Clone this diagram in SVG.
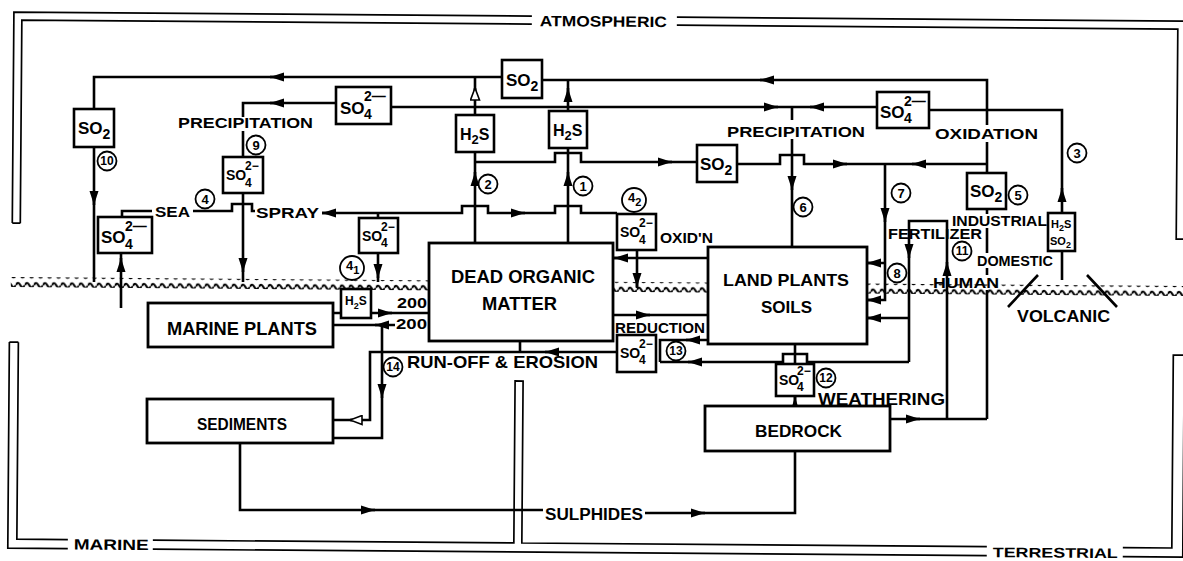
<svg xmlns="http://www.w3.org/2000/svg" width="1183" height="561" viewBox="0 0 1183 561">
<style>
.t{font-family:"Liberation Sans",Arial,Helvetica,sans-serif;font-weight:bold;fill:#000}
.ln{fill:none;stroke:#000;stroke-width:2.6;stroke-linejoin:miter}
.fr{fill:none;stroke:#000;stroke-width:1.7}
.bx{fill:#fff;stroke:#000;stroke-width:2.8}
.sb{fill:#fff;stroke:#000;stroke-width:2.6}
.cn{fill:#fff;stroke:#000;stroke-width:1.8}
.ar{fill:none;stroke:#000;stroke-width:2.6;marker-end:url(#ah)}
.ao{fill:none;stroke:#000;stroke-width:2.6;marker-end:url(#aho)}
.f18{font-size:18px}.f17{font-size:17px}.f16{font-size:16px}.f15{font-size:15px}.f14{font-size:14px}.f13{font-size:13px}.f12{font-size:12px}.f11{font-size:11px}.f9{font-size:9px}
</style>
<defs>
<marker id="ah" markerUnits="userSpaceOnUse" markerWidth="15" markerHeight="10" refX="14" refY="5" orient="auto"><path d="M0,0.5 L14,5 L0,9.5 z" fill="#000"/></marker>
<marker id="aho" markerUnits="userSpaceOnUse" markerWidth="15" markerHeight="11" refX="13" refY="5.5" orient="auto"><path d="M1,1 L13,5.5 L1,10 z" fill="#fff" stroke="#000" stroke-width="1.6"/></marker>
<pattern id="wave" patternUnits="userSpaceOnUse" width="9" height="10"><path d="M0,5 Q2.25,0.5 4.5,5 T9,5" fill="none" stroke="#000" stroke-width="2.1"/></pattern>
</defs>

<g id="frames" transform="rotate(0.44)">
<path class="fr" d="M14,223 V12 H532 M677,12 H1195 M22,223 V20 H532 M677,20 H1178 V230 H1195 M14,223 H22"/>
<path class="fr" d="M12,342 H21 M12,342 V548 H72 M157,548 H991 M1127,548 H1187 V330 M21,342 V539 H72 M157,539 H518 V377 H526 V539 H991 M1127,539 H1176 V346 H1195"/>
<rect x="13" y="277" width="1180" height="10" fill="url(#wave)"/>
<text class="t f15" x="540" y="22" textLength="127" lengthAdjust="spacingAndGlyphs">ATMOSPHERIC</text>
<text class="t f15" x="78" y="549" textLength="75" lengthAdjust="spacingAndGlyphs">MARINE</text>
<text class="t f14" x="997" y="549.5" textLength="125" lengthAdjust="spacingAndGlyphs">TERRESTRIAL</text>
</g>

<g id="connectors">
<path class="ln" d="M94,109 V77 H502"/><path class="ar" d="M276,77 H270"/>
<path class="ln" d="M542,80 H987 V125 M987,142 V173"/><path class="ar" d="M766,80 H760"/>
<path class="ln" d="M987,164 H885"/><path class="ar" d="M918,164 H912"/>
<path class="ln" d="M475,162 H555 V153 H581 V162 H697"/><path class="ar" d="M666,162 H672"/>
<path class="ln" d="M737,164 H780 V155 H804 V164 H885"/><path class="ar" d="M841,164 H847"/>
<path class="ln" d="M336,103 H243 V117 M243,131 V157"/><path class="ar" d="M276,103 H270"/>
<path class="ln" d="M391,107 H877 M792,107 V120 M792,139 V247"/><path class="ar" d="M772,107 H778"/><path class="ar" d="M816,107 H810"/><path class="ar" d="M792,184 V190"/>
<path class="ln" d="M929,110 H1062 V213"/><path class="ar" d="M1062,194 V188"/>
<path class="ln" d="M475,115 V77"/><path class="ao" d="M475,94 V88"/>
<path class="ln" d="M568,111 V80"/><path class="ar" d="M568,94 V88"/>
<path class="ln" d="M475,243 V152"/><path class="ar" d="M475,178 V172"/>
<path class="ln" d="M568,243 V148"/><path class="ar" d="M568,178 V172"/>
<path class="ln" d="M322,213 H462 V206 H488 V213 H555 V206 H581 V213 H617"/><path class="ar" d="M328,213 H322"/><path class="ar" d="M519,213 H525"/>
<path class="ln" d="M378,213 V218 M378,253 V282"/><path class="ar" d="M378,272 V278"/>
<path class="ln" d="M122,217 V211 H152 M193,211 H232 V204 H252 V211 H255"/>
<path class="ln" d="M94,147 V282"/><path class="ar" d="M94,199 V205"/>
<path class="ln" d="M243,193 V282"/><path class="ar" d="M243,266 V272"/>
<path class="ln" d="M121,308 V253"/><path class="ar" d="M121,264 V258"/>
<path class="ln" d="M333,313 H341 M371,313 H429"/><path class="ar" d="M386,313 H392"/>
<path class="ln" d="M395,325 H333"/><path class="ar" d="M381,325 H375"/>
<path class="ln" d="M382,325 V438 H333"/><path class="ar" d="M382,392 V398"/>
<path class="ln" d="M617,352 H370 V420 H333"/><path class="ar" d="M551,352 H545"/><path class="ao" d="M356,420 H350"/>
<path class="ln" d="M520,341 V352"/>
<path class="ln" d="M708,258 H613"/><path class="ar" d="M620,258 H614"/>
<path class="ln" d="M637,250 V288"/><path class="ar" d="M637,281 V287"/>
<path class="ln" d="M613,315 H708"/><path class="ar" d="M644,315 H650"/>
<path class="ln" d="M708,340 H660 V362"/><path class="ar" d="M692,340 H686"/>
<path class="ln" d="M909,362 H807 V354 H783 V362 H660"/><path class="ar" d="M694,362 H688"/>
<path class="ln" d="M795,344 V364"/>
<path class="ln" d="M795,406 V396"/><path class="ar" d="M795,403 V397"/>
<path class="ln" d="M240,443 V510 H543 M645,513 H795 V451"/><path class="ar" d="M369,510 H375"/><path class="ar" d="M699,513 H705"/>
<path class="ln" d="M890,419 H987"/><path class="ar" d="M914,419 H920"/>
<path class="ln" d="M947,419 V221 H909 V362"/><path class="ar" d="M947,268 V262"/><path class="ar" d="M909,252 V258"/>
<path class="ln" d="M909,318 H867"/><path class="ar" d="M873,318 H867"/>
<path class="ln" d="M987,209 V214 M987,228 V253 M987,268 V275 M987,290 V419"/>
<path class="ln" d="M1062,251 V280"/>
<path class="ln" d="M885,164 V300 H867 M885,263 H867"/><path class="ar" d="M885,216 V222"/><path class="ar" d="M873,263 H867"/><path class="ar" d="M873,300 H867"/>
</g>

<g id="dead"><rect class="bx" x="429" y="243" width="184" height="98"/><text class="t f18" x="451" y="283" textLength="144" lengthAdjust="spacingAndGlyphs">DEAD ORGANIC</text><text class="t f18" x="482" y="310" textLength="75" lengthAdjust="spacingAndGlyphs">MATTER</text></g>
<g id="land"><rect class="bx" x="708" y="247" width="159" height="97"/><text class="t f17" x="723" y="286" textLength="126" lengthAdjust="spacingAndGlyphs">LAND PLANTS</text><text class="t f17" x="761" y="313" textLength="51" lengthAdjust="spacingAndGlyphs">SOILS</text></g>
<g id="marine-plants"><rect class="bx" x="148" y="303" width="185" height="44"/><text class="t f18" x="167" y="335" textLength="150" lengthAdjust="spacingAndGlyphs">MARINE PLANTS</text></g>
<g id="sediments"><rect class="bx" x="147" y="399" width="186" height="44"/><text class="t f17" x="197" y="430" textLength="90" lengthAdjust="spacingAndGlyphs">SEDIMENTS</text></g>
<g id="bedrock"><rect class="bx" x="705" y="406" width="185" height="45"/><text class="t f17" x="755" y="437" textLength="87" lengthAdjust="spacingAndGlyphs">BEDROCK</text></g>

<g id="so2-top"><rect class="sb" x="502" y="60" width="40" height="38"/><text class="t f17" x="506" y="86">SO<tspan class="f14" dy="5">2</tspan></text></g>
<g id="so4-left"><rect class="sb" x="336" y="87" width="55" height="37"/><text class="t f17" x="340" y="114">SO<tspan class="f14" x="364" y="101">2—</tspan><tspan class="f14" x="364" y="119">4</tspan></text></g>
<g id="h2s-2"><rect class="sb" x="456" y="115" width="38" height="37"/><text class="t f16" x="460" y="140">H<tspan class="f13" dy="4">2</tspan><tspan dy="-4">S</tspan></text></g>
<g id="h2s-1"><rect class="sb" x="549" y="111" width="38" height="37"/><text class="t f16" x="553" y="136">H<tspan class="f13" dy="4">2</tspan><tspan dy="-4">S</tspan></text></g>
<g id="so4-right"><rect class="sb" x="877" y="92" width="52" height="36"/><text class="t f17" x="880" y="118">SO<tspan class="f14" x="904" y="106">2—</tspan><tspan class="f14" x="904" y="123">4</tspan></text></g>
<g id="so2-mid"><rect class="sb" x="697" y="145" width="40" height="37"/><text class="t f17" x="700" y="170">SO<tspan class="f14" dy="5">2</tspan></text></g>
<g id="so2-10"><rect class="sb" x="74" y="109" width="40" height="38"/><text class="t f17" x="78" y="134">SO<tspan class="f14" dy="5">2</tspan></text></g>
<g id="so4-9"><rect class="sb" x="223" y="157" width="40" height="36"/><text class="t f14" x="226" y="180">SO<tspan class="f12" x="245" y="170">2−</tspan><tspan class="f12" x="245" y="187">4</tspan></text></g>
<g id="so4-sea"><rect class="sb" x="98" y="217" width="54" height="36"/><text class="t f17" x="101" y="243">SO<tspan class="f14" x="125" y="231">2—</tspan><tspan class="f14" x="125" y="249">4</tspan></text></g>
<g id="so4-41"><rect class="sb" x="359" y="218" width="39" height="35"/><text class="t f14" x="362" y="241">SO<tspan class="f12" x="381" y="231">2−</tspan><tspan class="f12" x="381" y="247">4</tspan></text></g>
<g id="h2s-small"><rect class="sb" x="341" y="289" width="30" height="29"/><text class="t f12" x="345" y="305">H<tspan class="f9" dy="4">2</tspan><tspan dy="-4">S</tspan></text></g>
<g id="so4-42"><rect class="sb" x="617" y="214" width="39" height="36"/><text class="t f14" x="620" y="237">SO<tspan class="f12" x="639" y="227">2−</tspan><tspan class="f12" x="639" y="244">4</tspan></text></g>
<g id="so2-5"><rect class="sb" x="967" y="173" width="39" height="36"/><text class="t f17" x="970" y="197">SO<tspan class="f14" dy="5">2</tspan></text></g>
<g id="volcanic-gas"><rect class="sb" x="1048" y="213" width="27" height="38"/><text class="t f11" x="1051" y="228">H<tspan class="f9" dy="3">2</tspan><tspan dy="-3">S</tspan></text><text class="t f11" x="1050" y="245">SO<tspan class="f9" dy="3">2</tspan></text></g>
<g id="so4-13"><rect class="sb" x="617" y="335" width="39" height="37"/><text class="t f14" x="620" y="358">SO<tspan class="f12" x="639" y="348">2−</tspan><tspan class="f12" x="639" y="364">4</tspan></text></g>
<g id="so4-12"><rect class="sb" x="776" y="364" width="38" height="32"/><text class="t f14" x="779" y="385">SO<tspan class="f12" x="797" y="375">2−</tspan><tspan class="f12" x="797" y="391">4</tspan></text></g>

<g id="volcanic-vent"><path class="ln" d="M1008,307 L1038,275 M1087,275 L1117,307"/></g>

<g id="labels">
<text class="t f15" x="178" y="128" textLength="135" lengthAdjust="spacingAndGlyphs">PRECIPITATION</text>
<text class="t f15" x="727" y="137" textLength="138" lengthAdjust="spacingAndGlyphs">PRECIPITATION</text>
<text class="t f15" x="935" y="139" textLength="103" lengthAdjust="spacingAndGlyphs">OXIDATION</text>
<text class="t f15" x="155" y="217" textLength="35" lengthAdjust="spacingAndGlyphs">SEA</text>
<text class="t f15" x="256" y="218" textLength="63" lengthAdjust="spacingAndGlyphs">SPRAY</text>
<text class="t f15" x="660" y="243" textLength="53" lengthAdjust="spacingAndGlyphs">OXID'N</text>
<text class="t f15" x="615" y="333" textLength="90" lengthAdjust="spacingAndGlyphs">REDUCTION</text>
<text class="t f17" x="407" y="368" textLength="191" lengthAdjust="spacingAndGlyphs">RUN-OFF &amp; EROSION</text>
<text class="t f16" x="818" y="405" textLength="127" lengthAdjust="spacingAndGlyphs">WEATHERING</text>
<text class="t f16" x="545" y="520" textLength="98" lengthAdjust="spacingAndGlyphs">SULPHIDES</text>
<text class="t f15" x="952" y="226" textLength="95" lengthAdjust="spacingAndGlyphs">INDUSTRIAL</text>
<text class="t f15" x="888" y="239" textLength="94" lengthAdjust="spacingAndGlyphs">FERTILIZER</text>
<text class="t f15" x="977" y="266" textLength="76" lengthAdjust="spacingAndGlyphs">DOMESTIC</text>
<text class="t f15" x="933" y="288" textLength="66" lengthAdjust="spacingAndGlyphs">HUMAN</text>
<text class="t f16" x="1017" y="322" textLength="93" lengthAdjust="spacingAndGlyphs">VOLCANIC</text>
<text class="t f14" x="397" y="308" textLength="30" lengthAdjust="spacingAndGlyphs">200</text>
<text class="t f14" x="396" y="329" textLength="31" lengthAdjust="spacingAndGlyphs">200</text>
</g>

<g id="numbers">
<g id="n1"><circle class="cn" cx="583" cy="186" r="9.5"/><text class="t f13" x="583" y="190.5" text-anchor="middle">1</text></g>
<g id="n2"><circle class="cn" cx="488" cy="184" r="9.5"/><text class="t f13" x="488" y="188.5" text-anchor="middle">2</text></g>
<g id="n3"><circle class="cn" cx="1077" cy="153" r="9.5"/><text class="t f13" x="1077" y="157.5" text-anchor="middle">3</text></g>
<g id="n4"><circle class="cn" cx="205" cy="199" r="9.5"/><text class="t f13" x="205" y="203.5" text-anchor="middle">4</text></g>
<g id="n41"><circle class="cn" cx="352" cy="268" r="12"/><text class="t f13" x="346" y="270">4<tspan class="f11" dy="4">1</tspan></text></g>
<g id="n42"><circle class="cn" cx="634" cy="200" r="12"/><text class="t f13" x="628" y="202">4<tspan class="f11" dy="4">2</tspan></text></g>
<g id="n5"><circle class="cn" cx="1018" cy="195" r="9.5"/><text class="t f13" x="1018" y="199.5" text-anchor="middle">5</text></g>
<g id="n6"><circle class="cn" cx="803" cy="207" r="9.5"/><text class="t f13" x="803" y="211.5" text-anchor="middle">6</text></g>
<g id="n7"><circle class="cn" cx="901" cy="193" r="9.5"/><text class="t f13" x="901" y="197.5" text-anchor="middle">7</text></g>
<g id="n8"><circle class="cn" cx="897" cy="273" r="9.5"/><text class="t f13" x="897" y="277.5" text-anchor="middle">8</text></g>
<g id="n9"><circle class="cn" cx="256" cy="145" r="9.5"/><text class="t f13" x="256" y="149.5" text-anchor="middle">9</text></g>
<g id="n10"><circle class="cn" cx="107" cy="161" r="9.5"/><text class="t f12" x="107" y="165" text-anchor="middle">10</text></g>
<g id="n11"><circle class="cn" cx="962" cy="251" r="9.5"/><text class="t f12" x="962" y="255" text-anchor="middle">11</text></g>
<g id="n12"><circle class="cn" cx="826" cy="378" r="9.5"/><text class="t f12" x="826" y="382" text-anchor="middle">12</text></g>
<g id="n13"><circle class="cn" cx="676" cy="351" r="9.5"/><text class="t f12" x="676" y="355" text-anchor="middle">13</text></g>
<g id="n14"><circle class="cn" cx="393" cy="367" r="9.5"/><text class="t f12" x="393" y="371" text-anchor="middle">14</text></g>
</g>
</svg>
